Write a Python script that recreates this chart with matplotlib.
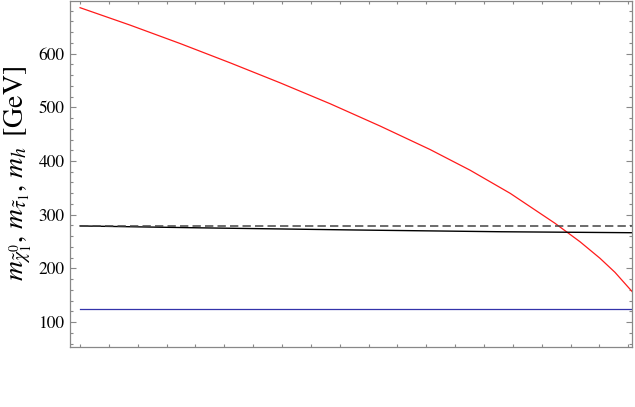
import matplotlib
matplotlib.use("Agg")
import matplotlib.pyplot as plt
from matplotlib.ticker import MultipleLocator, NullFormatter

plt.rcParams['font.family'] = ['STIXGeneral', 'DejaVu Serif']
plt.rcParams['mathtext.fontset'] = 'stix'
plt.rcParams['lines.scale_dashes'] = False

# data (x in arbitrary units, tick spacing = 1)
stau_x = [0.0, 1.73, 3.47, 5.20, 6.93, 8.67, 10.40, 12.13, 13.52, 14.91,
          16.46, 17.33, 18.02, 18.54, 19.13]
stau_m = [685.6, 653.2, 618.8, 582.9, 545.7, 506.6, 465.1, 421.4, 382.8, 339.7,
          284.0, 249.5, 218.8, 192.6, 157.0]

chi_x = [0.0, 4.16, 9.5, 14.6, 19.13]
chi_m = [279, 275.5, 271.5, 268.2, 266.4]

ref_x = [0.0, 19.13]
ref_m = [279, 279]

higgs_x = [0.0, 19.13]
higgs_m = [124.5, 124.5]

fig = plt.figure(figsize=(6.35, 4.07), dpi=100)
ax = fig.add_axes([70/635, 1-347/407, 562/635, 346.5/407])

ax.plot(stau_x, stau_m, color='#ff1a1a', lw=0.9)
ax.plot(chi_x, chi_m, color='black', lw=1.0)
ax.plot(ref_x, ref_m, color='#444444', lw=1.1, dashes=(6, 3))
ax.plot(higgs_x, higgs_m, color='#3333aa', lw=0.9)

ax.set_xlim(-0.35, 19.13)
ax.set_ylim(53.5, 699)

ax.yaxis.set_major_locator(MultipleLocator(100))
ax.yaxis.set_minor_locator(MultipleLocator(20))
ax.xaxis.set_major_locator(MultipleLocator(1))
ax.xaxis.set_major_formatter(NullFormatter())

ax.tick_params(axis='both', which='both', direction='in', top=True, right=True,
               color='#888888', width=0.8)
ax.tick_params(axis='y', which='major', length=4.5, labelsize=12.5, pad=4)
ax.tick_params(axis='y', which='minor', length=2.5)
ax.tick_params(axis='x', which='major', length=2.5)

for s in ax.spines.values():
    s.set_color('#888888')
    s.set_linewidth(0.9)

ax.set_ylabel(r'$m_{\tilde{\chi}_1^0},\, m_{\tilde{\tau}_1},\, m_h\ \,\left[\mathrm{GeV}\right]$',
              fontsize=20, labelpad=3)

fig.savefig('out.png', dpi=100)
